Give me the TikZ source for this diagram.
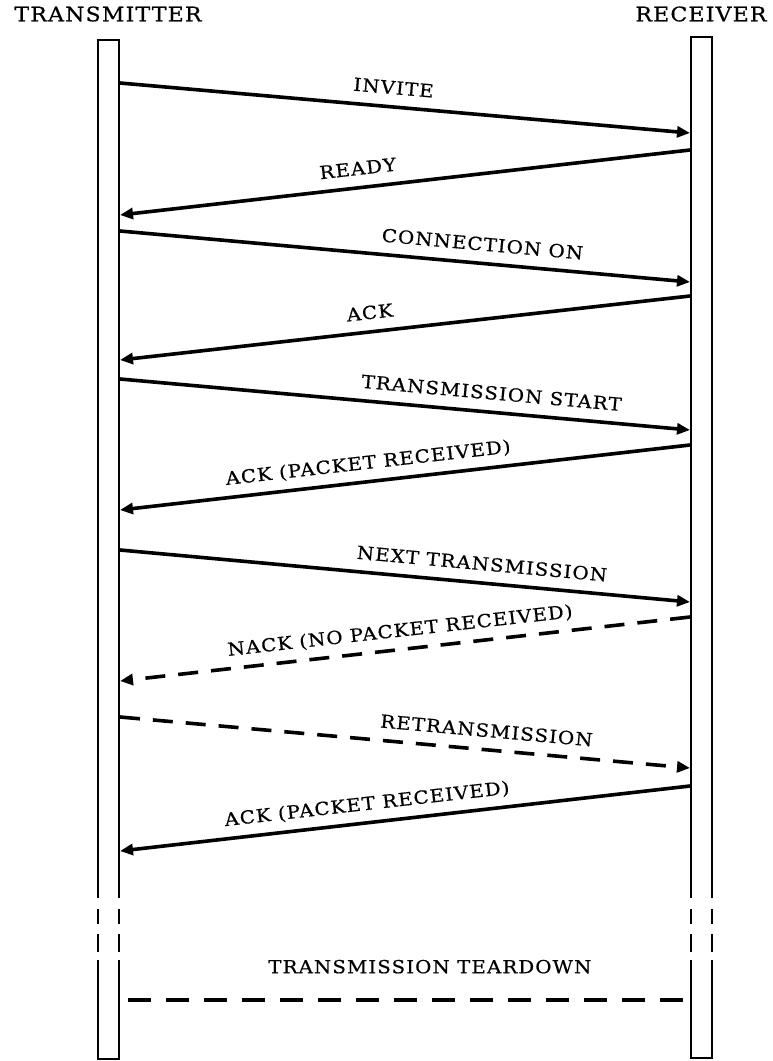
\documentclass[tikz,border=0pt]{standalone}
\usepackage{fontspec}
\newfontfamily\dfont[FakeStretch=1.1,LetterSpace=6,FakeBold=0.6]{DejaVu Serif}
\usetikzlibrary{arrows.meta}
\begin{document}
\begin{tikzpicture}[x=1pt,y=-1pt,
  lifebox/.style={line width=2.3pt},
  msg/.style={line width=3.6pt,-{Triangle[length=13pt,width=11pt]}},
  dmsg/.style={msg,dash pattern=on 20pt off 13pt},
  lbl/.style={sloped,above=11pt,inner sep=0pt,text depth=0pt,font=\dfont\fontsize{18}{21}\selectfont},
  hdr/.style={inner sep=0pt,font=\dfont\fontsize{20}{23}\selectfont}]
\useasboundingbox (0,0) rectangle (773,1061);
% headers
\node[hdr] (tx) at (108,14) {TRANSMITTER};
\node[hdr] (rx) at (701,14) {RECEIVER};
% left lifeline box
\draw[lifebox] (98,898) -- (98,40) -- (119,40) -- (119,898);
\draw[lifebox] (98,909) -- (98,924) (119,909) -- (119,924);
\draw[lifebox] (98,934) -- (98,952) (119,934) -- (119,952);
\draw[lifebox] (98,960) -- (98,1059) -- (119,1059) -- (119,960);
% right lifeline box
\draw[lifebox] (691,898) -- (691,37) -- (712,37) -- (712,898);
\draw[lifebox] (691,909) -- (691,924) (712,909) -- (712,924);
\draw[lifebox] (691,934) -- (691,952) (712,934) -- (712,952);
\draw[lifebox] (691,960) -- (691,1058) -- (712,1058) -- (712,960);
% message end points
\coordinate (l1) at (120,83);  \coordinate (r1) at (690,133);
\coordinate (r2) at (690,150); \coordinate (l2) at (120,215);
\coordinate (l3) at (120,231); \coordinate (r3) at (690,282);
\coordinate (r4) at (690,296); \coordinate (l4) at (120,360);
\coordinate (l5) at (120,379); \coordinate (r5) at (690,430);
\coordinate (r6) at (690,445); \coordinate (l6) at (120,510);
\coordinate (l7) at (120,550); \coordinate (r7) at (690,602);
\coordinate (r8) at (690,617); \coordinate (l8) at (120,681);
\coordinate (l9) at (120,717); \coordinate (r9) at (690,768);
\coordinate (r10) at (690,786); \coordinate (l10) at (120,851);
\coordinate (l11) at (128,1000); \coordinate (r11) at (687,1000);
% messages
\draw[msg] (l1) -- node[lbl,pos=.477] (m1) {INVITE} (r1);
\draw[msg] (r2) -- node[lbl,pos=.579] (m2) {READY} (l2);
\draw[msg] (l3) -- node[lbl,pos=.633] (m3) {CONNECTION ON} (r3);
\draw[msg] (r4) -- node[lbl,pos=.558] (m4) {ACK} (l4);
\draw[msg] (l5) -- node[lbl,pos=.649] (m5) {TRANSMISSION START} (r5);
\draw[msg] (r6) -- node[lbl,pos=.561] (m6) {ACK (PACKET RECEIVED)} (l6);
\draw[msg] (l7) -- node[lbl,pos=.632] (m7) {NEXT TRANSMISSION} (r7);
\draw[dmsg] (r8) -- node[lbl,pos=.505] (m8) {NACK (NO PACKET RECEIVED)} (l8);
\draw[dmsg] (l9) -- node[lbl,pos=.64] (m9) {RETRANSMISSION} (r9);
\draw[msg] (r10) -- node[lbl,pos=.563] (m10) {ACK (PACKET RECEIVED)} (l10);
\draw[line width=3.6pt,dash pattern=on 23pt off 15pt] (l11) -- node[lbl,pos=.54,above=14pt] (m11) {TRANSMISSION TEARDOWN} (r11);
\end{tikzpicture}
\end{document}
